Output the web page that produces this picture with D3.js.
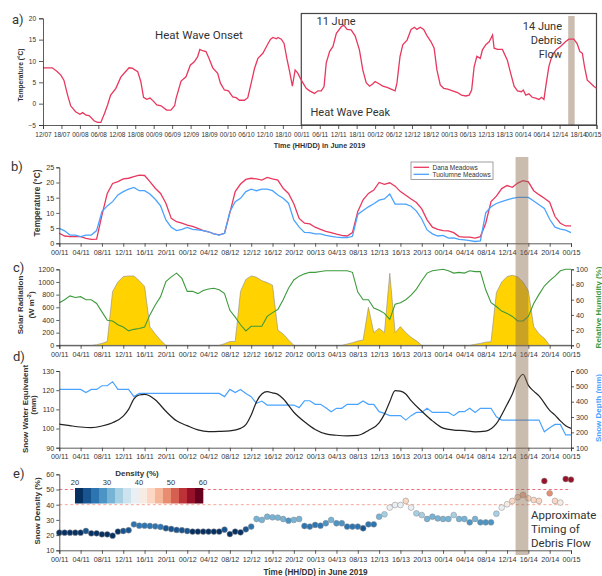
<!DOCTYPE html>
<html>
<head>
<meta charset="utf-8">
<script src="https://cdn.jsdelivr.net/npm/d3@7"></script>
<style>
body { margin: 0; background: #fff; }
</style>
</head>
<body>
<script>
// ---------- data ----------
// a) air temperature, hours since 12:00 on 7 June
var aHours = [0,3,4.5,5.8,6.8,8,9,10.6,12,12.9,
  14,15,16.6,17.7,18.8,20,21,22,23.7,25.3,
  26.6,28,29,30.8,31.8,32.7,33.7,34.8,35.9,37,
  38.4,40.2,41.6,42.8,43.3,44.9,46.5,47.9,49.2,50.3,
  51,51.9,53,54,55.2,56.8,57.7,59,60.3,61.7,
  62.8,63.9,65.5,66.6,67.7,68.8,69.9,71.5,73.2,74,
  74.8,75.9,76.4,77.5,78.4,79.3,80.2,81.1,82,82.9,
  84,85.6,86.7,88.3,89.4,90.5,91.4,92.1,93.2,94.3,
  95.4,97,97.8,98.9,100.2,101.5,102.9,104,105.1,106.2,
  107.2,108,109.4,110.5,111.9,113.2,114.5,115.1,116.1,117,
  118.4,119.7,120.8,121.6,122.7,123.8,124.9,126.2,127.2,128.1,
  129.2,130.3,131.6,133.2,134.8,136.1,137.5,138.6,139.4,140.2,
  141.1,142.2,142.9,144,145.1,146.2,146.7,147.8,149.4,151,
  152.1,153.2,154.3,155.6,156.2,157,158,159.1,160.2,161.3,
  162.1,162.9,163.5,164.5,165.6,167,168.3,169.9,171,172.6,
  173.7,174.6,175.4,176.1,177,178.1,179.1,180];
var aTemp = [8.4,8.4,7.6,6.7,5.5,2.0,-0.5,-1.9,-2.5,-2.1,
  -2.7,-2.8,-4.0,-4.4,-4.4,-2.3,-0.3,2.0,3.6,6.2,
  7.3,8.4,8.3,7.5,5.2,1.5,1.0,1.3,0.6,-0.3,
  -0.5,-1.5,-1.5,-0.5,1.3,5.3,6.3,9.0,9.8,11.0,
  12.7,12.4,12.2,10.6,8.4,7.1,4.8,3.2,3.0,1.6,
  1.4,0.8,0.8,1.4,4.8,8.3,10.6,11.8,14.1,15.1,
  15.5,15.2,15.5,15.1,14.1,10.6,7.5,4.1,7.9,7.1,
  5.5,3.6,3.0,2.4,3.0,3.0,4.0,9.5,12.2,13.4,
  16.5,18.0,18.4,17.4,17.3,15.9,12.6,7.9,4.9,4.1,
  4.6,5.2,4.6,4.1,3.8,3.4,3.0,4.8,11.0,13.8,
  14.9,17.4,17.9,17.4,17.9,17.4,15.9,14.5,13.0,7.9,
  4.4,3.6,3.4,3.0,2.6,2.0,1.8,2.0,3.2,8.6,
  11.1,10.6,12.6,13.8,14.5,16.1,13.0,12.7,12.7,10.2,
  7.1,4.1,3.0,2.8,3.2,2.0,2.3,1.5,1.3,1.0,
  1.5,1.0,4.0,8.7,11.4,12.7,13.4,14.5,15.1,15.1,
  14.1,12.2,11.8,8.7,5.5,4.8,4.1,3.6];

// b) - e) hourly, hour 0 = 00:00 on 11 June
var stations = ["Dana Meadows", "Tuolumne Meadows"];
var danaTemp = [3.3,2.4,2.2,2.2,2.2,1.6,1.3,1.4,9.3,16.4,
  19.7,20.3,21.2,21.4,21.9,22.4,22.3,20.3,18.1,16.4,
  13.2,8.2,7.1,6.6,6.0,5.6,4.9,4.2,3.8,3.1,
  2.8,3.3,10.0,17.0,19.5,21.0,21.4,21.2,20.8,21.7,
  21.2,20.8,18.1,16.4,13.0,8.2,6.6,6.4,5.3,4.6,
  3.9,3.5,3.0,2.6,2.4,3.5,10.5,14.3,16.4,17.5,
  20.0,19.4,19.9,18.8,17.0,15.8,14.6,13.4,11.3,7.7,
  5.3,4.6,4.2,4.1,3.5,2.2,2.0,2.0,1.7,2.2,
  6.6,13.7,15.5,18.0,19.0,18.4,19.8,20.6,20.2,17.3,
  16.0,14.8,13.5,8.8,6.6,5.7,5.7];
var tuolTemp = [4.9,4.1,2.7,2.7,2.2,2.7,2.7,4.2,10.4,12.3,
  13.7,15.9,17.0,17.8,18.4,17.3,17.3,16.2,14.5,12.3,
  7.7,5.3,4.2,4.6,5.2,4.6,4.4,4.2,3.8,3.1,
  2.7,3.3,10.4,13.7,14.8,17.0,17.8,17.3,17.8,17.8,
  17.3,15.9,14.8,13.2,7.7,5.3,3.6,3.5,3.1,3.1,
  2.6,2.3,2.0,1.9,1.9,2.3,9.5,10.8,12.0,13.0,
  14.2,14.6,16.2,12.9,12.9,12.9,12.2,10.6,8.0,4.4,
  3.1,2.4,2.6,1.7,1.8,1.3,1.1,0.9,0.6,0.8,
  10.0,12.0,13.1,13.7,14.3,14.8,15.1,15.1,15.1,13.9,
  12.7,11.5,7.9,5.3,4.7,4.3,3.5];
var solarRad = [0,0,0,0,0,0,0,10,30,60,
  850,1000,1085,1095,1095,1020,930,290,180,80,
  0,0,0,0,0,0,0,0,0,0,
  0,25,60,60,850,1040,1095,1075,1020,990,
  950,240,180,85,0,0,0,0,0,0,
  0,0,0,0,20,40,68,84,600,200,
  268,200,1137,200,295,200,126,70,0,0,
  0,0,0,0,0,0,0,0,15,30,
  50,58,830,1000,1085,1105,1080,1000,860,295,
  180,110,0,0,0,0,0];
var relHum = [56,60,65,63,64,60,60,55,44,33,
  32,27,24,19,21,22,24,40,53,64,
  84,90,95,88,71,71,68,72,74,75,
  73,68,46,37,27,19,25,25,25,38,
  43,47,60,75,86,91,94,96,96,97,
  98,98,98,98,98,96,70,60,60,49,
  46,42,34,54,56,60,66,74,85,95,
  98,99,100,98,95,96,95,98,97,97,
  73,56,51,45,42,38,32,32,38,55,
  67,78,85,91,98,100,100];
var sweHours = [0,2,4,6,8,10,12,13,14,15,16,17,18,20,22,24,26,28,30,32,
  34,35,36,37,38,39,40,41,42,44,46,48,50,52,54,56,58,60,61,62,
  63,64,65,66,68,70,72,74,76,78,80,82,84,85,86,87,88,89,90,92,
  93,94,95,96];
var sweVals = [102.3,101.5,100.8,100.5,101.3,103,106.5,110,115.5,117.5,117.8,117,115,109,104,101.5,99.3,98.4,98.5,98.8,
  100.1,102,107,114,118,119.2,118.6,117.8,115.5,108.5,103.5,99.5,97.2,96.5,96.2,96.4,99,103,107.5,114,
  119.8,119.5,118,114.5,109,104,100.2,99.2,98.9,98.3,98.6,102.5,112.5,118,125,128.3,122.5,119.5,117,109.5,
  107,104,101.5,100.1];
var snowDepth = [480,480,480,480,480,459,480,480,504,504,
  530,480,480,480,433,454,454,454,454,454,
  454,454,454,454,454,454,454,454,454,454,
  454,433,480,459,480,454,433,389,404,378,
  378,378,378,378,378,361,406,406,383,383,
  361,335,357,357,383,383,383,404,383,383,
  335,324,309,309,309,280,309,330,330,357,
  330,330,330,330,309,335,335,357,330,357,
  357,357,302,280,280,280,280,280,280,280,
  280,204,230,252,252,183,183];
var snowDensity = [21.6,21.6,21.6,21.6,21.6,22.7,21.2,21.2,20.5,20.5,
  19.6,22.3,22.7,23.2,27.1,26.2,26.2,26.0,25.8,25.4,
  24.5,24.0,23.4,23.2,22.7,22.3,22.3,22.3,22.3,22.3,
  22.3,23.6,20.7,22.3,21.8,23.8,25.6,30.6,30.0,32.1,
  31.7,31.5,30.6,29.5,30.0,30.6,26.0,25.6,26.7,26.2,
  27.8,30.0,27.8,27.8,25.6,25.6,25.6,24.5,27.1,27.1,
  32.1,33.7,38.1,39.8,39.8,42.5,38.1,34.3,33.2,30.6,
  32.1,31.0,30.6,30.6,33.2,30.6,30.6,28.4,30.6,28.4,
  28.4,28.4,34.1,38.1,40.3,42.5,44.9,46.4,44.2,43.1,
  42.5,55.6,47.5,42.5,41.4,56.9,56.5];
var densityTicks = [20, 30, 40, 50, 60];
var densityLimits = [50, 40];
var debrisA = [170.8, 172.9];   // hours since 12:00 7 June
var debrisB = [85.6, 88.0];     // hours since 00:00 11 June

// ---------- setup ----------
var width = 602, height = 576;
var tickFont = "'Liberation Sans', Arial, sans-serif";
var noteFont = "Roboto, 'Open Sans', sans-serif";
var ink = "#333";
var redC = "#e8385e", blueC = "#4aa3ff", greenC = "#3d9b3d";

var svg = d3.select("body").append("svg")
    .attr("width", width)
    .attr("height", height);

function pad(n) { return (n < 10 ? "0" : "") + n; }
function fmtA(t) { var h = t + 12; return pad(h % 24) + "/" + pad(7 + Math.floor(h / 24)); }
function fmtB(t) { return pad(t % 24) + "/" + pad(11 + Math.floor(t / 24)); }

function styleAxis(g, size) {
    g.attr("font-family", tickFont).attr("font-size", size);
    g.selectAll(".domain, .tick line").attr("stroke", ink).attr("stroke-width", 0.8);
    g.selectAll("text").attr("fill", ink);
    return g;
}

// rotated axis title, x is the centre of the glyphs
function yTitle(x, y, txt, color, size) {
    svg.append("text")
        .attr("transform", "translate(" + x + "," + y + ")rotate(-90)")
        .attr("dy", "0.35em")
        .attr("text-anchor", "middle")
        .attr("font-family", tickFont)
        .attr("font-weight", "bold")
        .attr("font-size", size)
        .attr("fill", color)
        .text(txt);
}

function note(x, y, txt, size, anchor) {
    svg.append("text")
        .attr("x", x).attr("y", y)
        .attr("text-anchor", anchor || "start")
        .attr("font-family", noteFont)
        .attr("font-size", size)
        .attr("fill", ink)
        .text(txt);
}

// ---------- a) ----------
var xa = d3.scaleLinear().domain([0, 180]).range([43, 596.5]);
var ya = d3.scaleLinear().domain([-5, 20]).range([125, 18.3]);

svg.append("rect")
    .attr("x", xa(debrisA[0])).attr("y", 16)
    .attr("width", xa(debrisA[1]) - xa(debrisA[0]))
    .attr("height", ya(-5) - 16)
    .attr("fill", "#8b6b4f").attr("opacity", 0.45);

// box round the second half of the record
svg.append("rect")
    .attr("x", xa(84)).attr("y", 13.5)
    .attr("width", xa(180) - xa(84))
    .attr("height", ya(-5) - 13.5)
    .attr("fill", "none").attr("stroke", "#444").attr("stroke-width", 1.2);

svg.append("path")
    .attr("d", d3.line().x(function(d, i) { return xa(aHours[i]); }).y(function(d) { return ya(d); })(aTemp))
    .attr("fill", "none").attr("stroke", redC).attr("stroke-width", 1.3);

styleAxis(svg.append("g")
    .attr("transform", "translate(43,0)")
    .call(d3.axisLeft(ya).tickValues([-5, 0, 5, 10, 15, 20]).tickSize(4).tickPadding(3)), 6.5);
var axA = styleAxis(svg.append("g")
    .attr("transform", "translate(0," + ya(-5) + ")")
    .call(d3.axisBottom(xa).tickValues(d3.range(0, 181, 6)).tickFormat(fmtA).tickSize(4).tickPadding(3)), 6.5);
// last label sits on the page edge
axA.selectAll(".tick text").filter(function(d) { return d == 180; }).attr("text-anchor", "end").attr("dx", 4.5);

yTitle(20.5, 75, "Temperature (\u00b0C)", ink, 6.6);
svg.append("text").attr("x", 319.5).attr("y", 147.5).attr("text-anchor", "middle")
    .attr("font-family", tickFont).attr("font-weight", "bold").attr("font-size", 7.2).attr("fill", ink)
    .text("Time (HH/DD) in June 2019");

note(12, 24, "a)", 13);
note(155, 38.5, "Heat Wave Onset", 11.5);
note(316.5, 24.5, "11 June", 11);
note(310.5, 115.5, "Heat Wave Peak", 11);
note(562, 30, "14 June", 11, "end");
note(562, 43.5, "Debris", 11, "end");
note(562, 57.5, "Flow", 11, "end");

// ---------- shared x scale for b) - e) ----------
var xs = d3.scaleLinear().domain([0, 96]).range([59.3, 571]);
var hrs = d3.range(0, 97);

function bottomAxis(y) {
    styleAxis(svg.append("g")
        .attr("transform", "translate(0," + y + ")")
        .call(d3.axisBottom(xs).tickValues(d3.range(0, 97, 4)).tickFormat(fmtB).tickSize(3.5).tickPadding(3)), 7.2);
}
function leftAxis(scale, vals) {
    styleAxis(svg.append("g")
        .attr("transform", "translate(" + xs(0) + ",0)")
        .call(d3.axisLeft(scale).tickValues(vals).tickFormat(d3.format("d")).tickSize(3).tickPadding(2)), 7.2);
}
function rightAxis(scale, vals) {
    styleAxis(svg.append("g")
        .attr("transform", "translate(" + xs(96) + ",0)")
        .call(d3.axisRight(scale).tickValues(vals).tickFormat(d3.format("d")).tickSize(3).tickPadding(2)), 7.2);
}

// ---------- b) ----------
var yb = d3.scaleLinear().domain([0, 25]).range([243.3, 167.3]);
var lineB = d3.line().x(function(d, i) { return xs(hrs[i]); }).y(function(d) { return yb(d); });

svg.append("path").attr("d", lineB(danaTemp))
    .attr("fill", "none").attr("stroke", redC).attr("stroke-width", 1.3);
svg.append("path").attr("d", lineB(tuolTemp))
    .attr("fill", "none").attr("stroke", blueC).attr("stroke-width", 1.3);

leftAxis(yb, [0, 5, 10, 15, 20, 25]);
bottomAxis(yb(0));
yTitle(36.8, 203, "Temperature (\u00b0C)", ink, 8.3);
note(11, 171, "b)", 13);

// legend
var leg = svg.append("g").attr("transform", "translate(411,162)");
leg.append("rect").attr("width", 82).attr("height", 17.5)
    .attr("fill", "#fff").attr("stroke", "#888").attr("stroke-width", 0.8);
stations.forEach(function(s, i) {
    leg.append("line").attr("x1", 2.5).attr("x2", 18).attr("y1", 5.3 + i * 7).attr("y2", 5.3 + i * 7)
        .attr("stroke", i == 0 ? redC : blueC).attr("stroke-width", 1.3);
    leg.append("text").attr("x", 21.5).attr("y", 7.6 + i * 7)
        .attr("font-family", tickFont).attr("font-size", 6.5).attr("fill", ink).text(s);
});

// ---------- c) ----------
var yc = d3.scaleLinear().domain([0, 1200]).range([345.3, 269.3]);
var ycR = d3.scaleLinear().domain([0, 100]).range([345.3, 269.3]);

svg.append("path")
    .attr("d", d3.area().x(function(d, i) { return xs(hrs[i]); }).y0(yc(0)).y1(function(d) { return yc(d); })(solarRad))
    .attr("fill", "#ffd200").attr("stroke", "#8a8a8a").attr("stroke-width", 0.6);
svg.append("path")
    .attr("d", d3.line().x(function(d, i) { return xs(hrs[i]); }).y(function(d) { return ycR(d); })(relHum))
    .attr("fill", "none").attr("stroke", greenC).attr("stroke-width", 1.1);

leftAxis(yc, d3.range(0, 1201, 200));
rightAxis(ycR, d3.range(0, 101, 20));
bottomAxis(yc(0));
yTitle(20.3, 305, "Solar Radiation", ink, 8);
svg.append("text")
    .attr("transform", "translate(30.8,305)rotate(-90)")
    .attr("dy", "0.35em").attr("text-anchor", "middle")
    .attr("font-family", tickFont).attr("font-weight", "bold").attr("font-size", 8).attr("fill", ink)
    .html("(W m<tspan dy='-3' font-size='5.5'>-2</tspan><tspan dy='3'>)</tspan>");
yTitle(598, 307.5, "Relative Humidity (%)", greenC, 8);
note(13, 272, "c)", 13);

// ---------- d) ----------
var yd = d3.scaleLinear().domain([90, 130]).range([447.7, 371]);
var ydR = d3.scaleLinear().domain([100, 600]).range([447.7, 371]);

svg.append("path")
    .attr("d", d3.line().x(function(d, i) { return xs(hrs[i]); }).y(function(d) { return ydR(d); })(snowDepth))
    .attr("fill", "none").attr("stroke", blueC).attr("stroke-width", 1.2);
svg.append("path")
    .attr("d", d3.line().curve(d3.curveMonotoneX).x(function(d, i) { return xs(sweHours[i]); }).y(function(d) { return yd(d); })(sweVals))
    .attr("fill", "none").attr("stroke", "#222").attr("stroke-width", 1.2);

leftAxis(yd, d3.range(90, 131, 10));
rightAxis(ydR, d3.range(100, 601, 100));
bottomAxis(yd(90));
yTitle(25, 409, "Snow Water Equivalent", ink, 8);
yTitle(33.5, 405, "(mm)", ink, 8);
yTitle(598, 408, "Snow Depth (mm)", blueC, 8);
note(13, 361, "d)", 13);

// ---------- e) ----------
var ye = d3.scaleLinear().domain([10, 60]).range([550.3, 474.3]);
var densColor = d3.scaleQuantize().domain([20, 60])
    .range(d3.quantize(function(t) { return d3.interpolateRdBu(1 - t); }, 16));

svg.selectAll(".limit")
    .data(densityLimits)
    .enter().append("line")
    .attr("x1", xs(0)).attr("x2", xs(96))
    .attr("y1", function(d) { return ye(d); }).attr("y2", function(d) { return ye(d); })
    .attr("stroke", function(d, i) { return i == 0 ? "#ef6f7f" : "#f4a898"; })
    .attr("stroke-width", 1).attr("stroke-dasharray", "3,2.5");

// colour bar
var xcb = d3.scaleLinear().domain([20, 60]).range([75, 203]);
var cbCells = densColor.range().map(function(c) { return densColor.invertExtent(c); });
svg.selectAll(".cb")
    .data(cbCells)
    .enter().append("rect")
    .attr("x", function(d) { return xcb(d[0]); })
    .attr("width", function(d) { return xcb(d[1]) - xcb(d[0]) + 0.3; })
    .attr("y", 488).attr("height", 15.5)
    .attr("fill", function(d) { return densColor((d[0] + d[1]) / 2); });
svg.selectAll(".cbt")
    .data(densityTicks)
    .enter().append("text")
    .attr("x", function(d) { return xcb(d); }).attr("y", 485)
    .attr("text-anchor", "middle")
    .attr("font-family", tickFont).attr("font-size", 7.5).attr("fill", ink)
    .text(function(d) { return d; });
svg.append("text").attr("x", 137).attr("y", 476).attr("text-anchor", "middle")
    .attr("font-family", tickFont).attr("font-weight", "bold").attr("font-size", 8).attr("fill", ink)
    .text("Density (%)");

svg.selectAll(".dot")
    .data(snowDensity)
    .enter().append("circle")
    .attr("cx", function(d, i) { return xs(hrs[i]); })
    .attr("cy", function(d) { return ye(d); })
    .attr("r", 2.9)
    .attr("fill", function(d) { return densColor(d); })
    .attr("stroke", "#8a8a8a").attr("stroke-width", 0.5);

leftAxis(ye, d3.range(10, 61, 10));
bottomAxis(ye(10));
yTitle(37, 511, "Snow Density (%)", ink, 8);
svg.append("text").attr("x", 315.5).attr("y", 575).attr("text-anchor", "middle")
    .attr("font-family", tickFont).attr("font-weight", "bold").attr("font-size", 8.2).attr("fill", ink)
    .text("Time (HH/DD) in June 2019");
note(13, 478, "e)", 13);
note(531, 518.5, "Approximate", 11.5);
note(531, 532.5, "Timing of", 11.5);
note(531, 546.5, "Debris Flow", 11.5);

// debris flow band across b) - e)
svg.append("rect")
    .attr("x", xs(debrisB[0])).attr("y", 157)
    .attr("width", xs(debrisB[1]) - xs(debrisB[0]))
    .attr("height", 555 - 157)
    .attr("fill", "#8b6b4f").attr("opacity", 0.45);
</script>
</body>
</html>
